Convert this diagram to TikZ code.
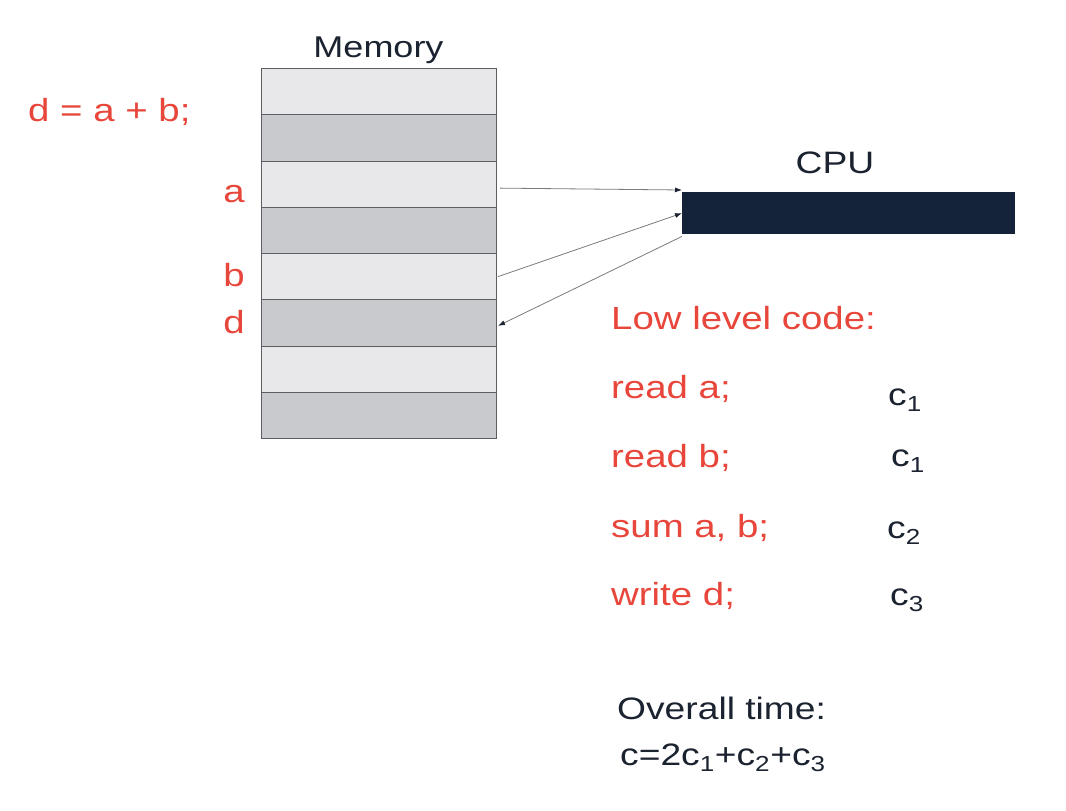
\documentclass[tikz,border=0pt]{standalone}
\usepackage{fontspec}
\usepackage{graphicx}
\setmainfont{Liberation Sans}
\usetikzlibrary{arrows.meta}
\definecolor{redtxt}{HTML}{E8463B}
\definecolor{darktxt}{HTML}{1B2230}
\definecolor{cpufill}{HTML}{15233A}
\definecolor{memlight}{HTML}{E8E8EA}
\definecolor{memdark}{HTML}{C9CACD}
\definecolor{memline}{HTML}{5C5D60}
\definecolor{arrline}{HTML}{7A7B7E}
\newcommand{\hs}[1]{\scalebox{1.2}[1]{#1}}
\tikzset{
  redlbl/.style={text=redtxt, font=\fontsize{32}{38}\selectfont, inner sep=0pt},
  blklbl/.style={text=darktxt, font=\fontsize{31}{37}\selectfont, inner sep=0pt},
  memlightcell/.style={draw=memline, line width=1pt, fill=memlight, minimum width=235pt, minimum height=46.25pt, inner sep=0pt, anchor=north west},
  memdarkcell/.style={draw=memline, line width=1pt, fill=memdark, minimum width=235pt, minimum height=46.25pt, inner sep=0pt, anchor=north west},
  cpubox/.style={fill=cpufill, draw=none, minimum width=333pt, minimum height=42pt, inner sep=0pt, anchor=north west},
  conn/.style={draw=arrline, line width=0.8pt, -{Latex[length=7pt,width=5pt,fill=darktxt,color=darktxt]}}
}
\begin{document}
\begin{tikzpicture}[x=1pt,y=-1pt]
\useasboundingbox (0,0) rectangle (1066,811);
\fill[white] (0,0) rectangle (1066,811);
% memory cells
\node[memlightcell] (m1) at (261,68) {};
\node[memdarkcell]  (m2) at (261,114.25) {};
\node[memlightcell] (m3) at (261,160.5) {};
\node[memdarkcell]  (m4) at (261,206.75) {};
\node[memlightcell] (m5) at (261,253) {};
\node[memdarkcell]  (m6) at (261,299.25) {};
\node[memlightcell] (m7) at (261,345.5) {};
\node[memdarkcell]  (m8) at (261,391.75) {};
\node[blklbl, anchor=base, font=\fontsize{30}{36}\selectfont] (memt) at (378.5,57) {\hs{Memory}};
% CPU
\node[cpubox] (cpu) at (682,192) {};
\node[blklbl, anchor=base] (cput) at (835,173) {\hs{CPU}};
% source line and labels
\node[redlbl, anchor=base west] (src) at (28,121) {\hs{d = a + b;}};
\node[redlbl, anchor=base east] (la) at (245,202) {\hs{a}};
\node[redlbl, anchor=base east] (lb) at (245,286) {\hs{b}};
\node[redlbl, anchor=base east] (ld) at (245,333) {\hs{d}};
% arrows
\draw[conn] ([xshift=3pt,yshift=-4pt]m3.east) -- ([yshift=2pt]cpu.north west);
\draw[conn] ([xshift=1pt]m5.east) -- (cpu.west);
\draw[conn] ([yshift=-2pt]cpu.south west) -- ([xshift=1pt,yshift=-3pt]m6.east);
% low level code
\node[redlbl, anchor=base west] (llc) at (611,329) {\hs{Low level code:}};
\node[redlbl, anchor=base west] (r1) at (611,398) {\hs{read a;}};
\node[redlbl, anchor=base west] (r2) at (611,467) {\hs{read b;}};
\node[redlbl, anchor=base west] (r3) at (611,537) {\hs{sum a, b;}};
\node[redlbl, anchor=base west] (r4) at (611,605) {\hs{write d;}};
\node[blklbl, anchor=base west] (c1) at (888,405) {\hs{c\textsubscript{1}}};
\node[blklbl, anchor=base west] (c2) at (891,466) {\hs{c\textsubscript{1}}};
\node[blklbl, anchor=base west] (c3) at (887,538) {\hs{c\textsubscript{2}}};
\node[blklbl, anchor=base west] (c4) at (890,605) {\hs{c\textsubscript{3}}};
% overall time
\node[blklbl, anchor=base west] (ot) at (617,719) {\hs{Overall time:}};
\node[blklbl, anchor=base west] (of) at (620,765) {\hs{c=2c\textsubscript{1}+c\textsubscript{2}+c\textsubscript{3}}};
\end{tikzpicture}
\end{document}
